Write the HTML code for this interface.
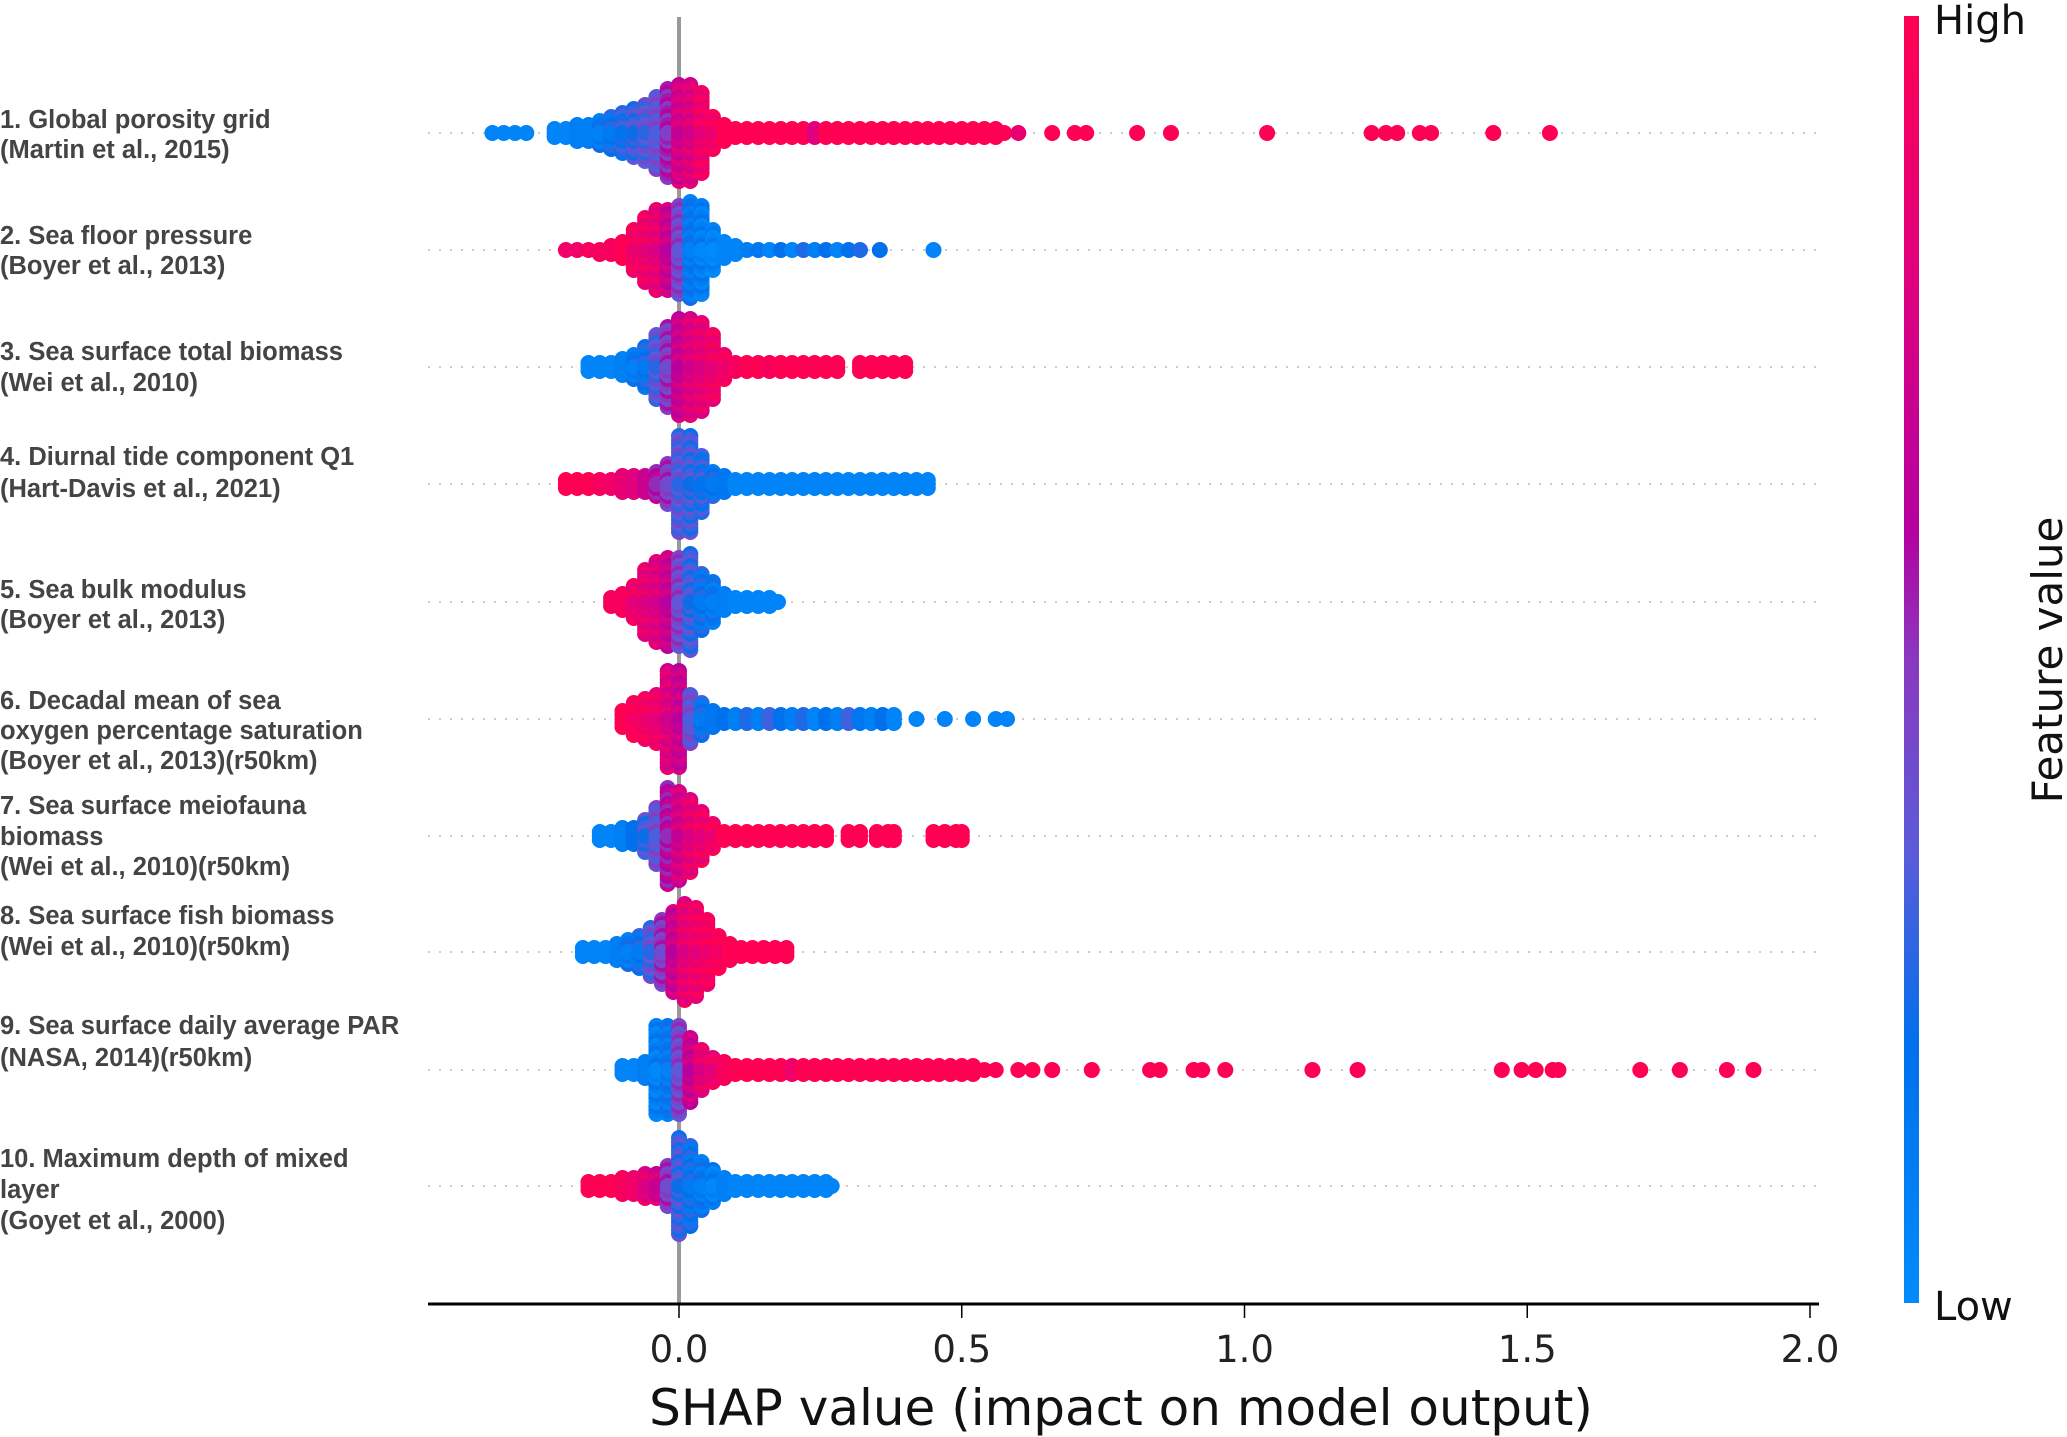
<!DOCTYPE html>
<html><head><meta charset="utf-8"><style>
html,body{margin:0;padding:0;background:#fff;}
svg{display:block;}
.lbl{font-family:"Liberation Sans",sans-serif;font-weight:bold;font-size:25.5px;fill:#444;}
.tick{font-family:"DejaVu Sans","Liberation Sans",sans-serif;font-size:37px;fill:#222;}
</style></head><body>
<svg id="chart" width="2067" height="1437" viewBox="0 0 2067 1437" xmlns="http://www.w3.org/2000/svg">
<defs><linearGradient id="cbg" x1="0" y1="1" x2="0" y2="0">
<stop offset="0" stop-color="#008bfb"/><stop offset="0.2" stop-color="#0070ec"/><stop offset="0.35" stop-color="#5b5bd9"/><stop offset="0.5" stop-color="#8a38c0"/><stop offset="0.6" stop-color="#b400a0"/><stop offset="0.8" stop-color="#e0007e"/><stop offset="1" stop-color="#ff0052"/></linearGradient></defs>
<g id="grid"></g>
<line x1="679" y1="17" x2="679" y2="1304" stroke="#999" stroke-width="4"/>
<g id="dots"></g>
<g id="labels"></g>
<line x1="428" y1="1304" x2="1819" y2="1304" stroke="#000" stroke-width="3"/>
<g id="xticks"></g>
<text x="1121" y="1425" text-anchor="middle" font-family="DejaVu Sans, Liberation Sans, sans-serif" font-size="50" fill="#111">SHAP value (impact on model output)</text>
<rect x="1904" y="16" width="15" height="1287" fill="url(#cbg)"/>
<text x="1934" y="34" font-family="DejaVu Sans, Liberation Sans, sans-serif" font-size="40" fill="#111">High</text>
<text x="1934" y="1320" font-family="DejaVu Sans, Liberation Sans, sans-serif" font-size="40" fill="#111">Low</text>
<text transform="translate(2062,660) rotate(-90)" text-anchor="middle" font-family="DejaVu Sans, Liberation Sans, sans-serif" font-size="42" fill="#111">Feature value</text>
</svg>
<script>
const featureNames = [
 ["1. Global porosity grid","(Martin et al., 2015)"],
 ["2. Sea floor pressure","(Boyer et al., 2013)"],
 ["3. Sea surface total biomass","(Wei et al., 2010)"],
 ["4. Diurnal tide component Q1","(Hart-Davis et al., 2021)"],
 ["5. Sea bulk modulus","(Boyer et al., 2013)"],
 ["6. Decadal mean of sea","oxygen percentage saturation","(Boyer et al., 2013)(r50km)"],
 ["7. Sea surface meiofauna","biomass","(Wei et al., 2010)(r50km)"],
 ["8. Sea surface fish biomass","(Wei et al., 2010)(r50km)"],
 ["9. Sea surface daily average PAR","(NASA, 2014)(r50km)"],
 ["10. Maximum depth of mixed","layer","(Goyet et al., 2000)"]
];
const xTickValues = [0.0, 0.5, 1.0, 1.5, 2.0];
const xTickLabels = ["0.0","0.5","1.0","1.5","2.0"];
const shapCols = [
 [-0.33,-0.31,-0.29,-0.27,-0.22,-0.20,-0.18,-0.16,-0.14,-0.12,-0.10,-0.08,-0.06,-0.04,-0.02,0.00,0.02,0.04,0.06,0.08,0.10,0.12,0.14,0.16,0.18,0.20,0.22,0.24,0.26,0.28,0.30,0.32,0.34,0.36,0.38,0.40,0.42,0.44,0.46,0.48,0.50,0.52,0.54,0.56,0.575,0.60,0.66,0.70,0.72,0.81,0.87,1.04,1.225,1.25,1.27,1.31,1.33,1.44,1.54],
 [-0.20,-0.18,-0.16,-0.14,-0.12,-0.10,-0.08,-0.06,-0.04,-0.02,0.00,0.02,0.04,0.06,0.08,0.10,0.12,0.14,0.16,0.18,0.20,0.22,0.24,0.26,0.28,0.30,0.32,0.355,0.45],
 [-0.16,-0.14,-0.12,-0.10,-0.08,-0.06,-0.04,-0.02,0.00,0.02,0.04,0.06,0.08,0.10,0.12,0.14,0.16,0.18,0.20,0.22,0.24,0.26,0.28,0.32,0.34,0.36,0.38,0.40],
 [-0.20,-0.18,-0.16,-0.14,-0.12,-0.10,-0.08,-0.06,-0.04,-0.02,0.00,0.02,0.04,0.06,0.08,0.10,0.12,0.14,0.16,0.18,0.20,0.22,0.24,0.26,0.28,0.30,0.32,0.34,0.36,0.38,0.40,0.42,0.44],
 [-0.12,-0.10,-0.08,-0.06,-0.04,-0.02,0.00,0.02,0.04,0.06,0.08,0.10,0.12,0.14,0.16,0.175],
 [-0.10,-0.08,-0.06,-0.04,-0.02,0.00,0.02,0.04,0.06,0.08,0.10,0.12,0.14,0.16,0.18,0.20,0.22,0.24,0.26,0.28,0.30,0.32,0.34,0.36,0.38,0.42,0.47,0.52,0.56,0.58],
 [-0.14,-0.12,-0.10,-0.08,-0.06,-0.04,-0.02,0.00,0.02,0.04,0.06,0.08,0.10,0.12,0.14,0.16,0.18,0.20,0.22,0.24,0.26,0.30,0.32,0.35,0.37,0.38,0.45,0.47,0.49,0.50],
 [-0.17,-0.15,-0.13,-0.11,-0.09,-0.07,-0.05,-0.03,-0.01,0.01,0.03,0.05,0.07,0.09,0.11,0.13,0.15,0.17,0.19],
 [-0.10,-0.08,-0.06,-0.04,-0.02,0.00,0.02,0.04,0.06,0.08,0.10,0.12,0.14,0.16,0.18,0.20,0.22,0.24,0.26,0.28,0.30,0.32,0.34,0.36,0.38,0.40,0.42,0.44,0.46,0.48,0.50,0.52,0.54,0.56,0.60,0.625,0.66,0.73,0.833,0.85,0.91,0.925,0.966,1.12,1.20,1.455,1.49,1.515,1.545,1.555,1.70,1.77,1.853,1.90],
 [-0.16,-0.14,-0.12,-0.10,-0.08,-0.06,-0.04,-0.02,0.00,0.02,0.04,0.06,0.08,0.10,0.12,0.14,0.16,0.18,0.20,0.22,0.24,0.26,0.27]
];
const dotCounts = [
 [1,1,1,1,3,3,5,5,7,9,11,13,15,19,23,25,25,21,9,5,3,3,3,3,3,3,3,3,3,3,3,3,3,3,3,3,3,3,3,3,3,3,3,3,1,1,1,1,1,1,1,1,1,1,1,1,1,1,1],
 [1,1,1,2,3,5,11,17,21,21,23,25,23,11,5,3,1,1,1,1,1,1,1,1,1,1,1,1,1],
 [3,3,3,5,7,11,17,21,25,25,23,17,7,3,3,3,3,3,3,3,3,3,3,3,3,3,3,3],
 [3,3,3,3,3,5,5,5,7,11,25,25,15,7,5,3,3,3,3,3,3,3,3,3,3,3,3,3,3,3,3,3,3],
 [3,5,9,17,21,23,23,25,15,11,5,3,3,3,3,1],
 [5,9,11,13,25,25,13,9,5,3,3,3,3,3,3,3,3,3,3,3,3,3,3,3,3,1,1,1,1,1],
 [3,3,5,5,9,15,25,23,19,13,7,3,3,3,3,3,3,3,3,3,3,3,3,3,3,3,3,3,3,3],
 [3,3,3,5,7,9,13,17,21,25,23,17,9,5,3,3,3,3,3],
 [3,3,5,23,23,23,17,11,7,5,3,3,3,3,3,3,3,3,3,3,3,3,3,3,3,3,3,3,3,3,3,3,1,1,1,1,1,1,1,1,1,1,1,1,1,1,1,1,1,1,1,1,1,1],
 [3,3,3,5,5,7,7,11,25,21,13,9,5,3,3,3,3,3,3,3,3,3,1]
];
const featVals = [
 [0.05,0.05,0.05,0.05,0.05,0.05,0.1,0.1,0.15,0.2,0.25,0.3,0.35,0.4,0.55,0.75,0.8,0.9,0.95,1,1,1,1,1,1,1,1,0.8,1,1,1,1,1,1,1,1,1,1,1,1,1,1,1,1,1,0.85,1,1,1,1,1,1,1,1,1,1,1,1,1],
 [0.9,0.9,0.95,0.95,0.95,1,0.95,0.9,0.85,0.7,0.45,0.15,0.1,0.05,0.05,0.05,0.1,0.15,0.05,0.2,0.05,0.25,0.1,0.2,0.05,0.2,0.25,0.2,0.05],
 [0.05,0.05,0.05,0.08,0.15,0.2,0.35,0.5,0.7,0.8,0.85,0.9,0.95,0.95,1,1,0.95,1,1,1,1,1,1,1,1,1,1,1],
 [1,1,1,0.95,0.9,0.85,0.8,0.7,0.6,0.5,0.35,0.3,0.25,0.2,0.15,0.05,0.05,0.05,0.05,0.05,0.05,0.05,0.05,0.05,0.05,0.05,0.05,0.05,0.05,0.05,0.05,0.05,0.05],
 [0.95,0.95,0.9,0.85,0.8,0.7,0.45,0.3,0.2,0.15,0.1,0.05,0.05,0.05,0.05,0.05],
 [1,1,0.95,0.9,0.8,0.7,0.4,0.2,0.15,0.2,0.1,0.25,0.1,0.3,0.2,0.1,0.25,0.05,0.2,0.1,0.3,0.15,0.1,0.2,0.05,0.05,0.05,0.05,0.05,0.05],
 [0.05,0.05,0.1,0.2,0.3,0.4,0.6,0.75,0.85,0.9,0.95,1,1,1,1,1,1,1,1,1,1,1,1,1,1,1,1,1,1,1],
 [0.05,0.05,0.05,0.1,0.15,0.2,0.35,0.5,0.7,0.85,0.9,0.95,1,1,1,1,1,1,1],
 [0.05,0.05,0.1,0.1,0.15,0.45,0.7,0.85,0.9,0.95,1,1,1,1,1,0.9,1,1,1,1,1,1,1,1,1,1,1,1,1,1,1,1,1,1,1,1,1,1,1,1,1,1,1,1,1,1,1,1,1,1,1,1,1,1],
 [1,1,1,0.95,0.9,0.85,0.75,0.5,0.3,0.2,0.15,0.1,0.1,0.05,0.05,0.05,0.05,0.05,0.05,0.05,0.05,0.05,0.05]
];
const rowY = [133,250,367,484,602,719,836,952,1070,1186];
const labelLineY = [[119,149],[235,265],[351,382],[456,488],[589,619],[700,730,760],[805,836,866],[915,946],[1025,1057],[1158,1189,1220]];

const NS = "http://www.w3.org/2000/svg";
const X0 = 679, PX = 565.5;
function xScale(v){ return X0 + v*PX; }
const stops = [[0,[0,139,251]],[0.2,[0,112,236]],[0.35,[91,91,217]],[0.5,[138,56,192]],[0.6,[180,0,160]],[0.8,[224,0,126]],[1,[255,0,82]]];
function cmap(t){
  t = Math.max(0, Math.min(1, t));
  for (let i=1;i<stops.length;i++){
    if (t <= stops[i][0]){
      const a=stops[i-1], b=stops[i], f=(t-a[0])/(b[0]-a[0]);
      const c=a[1].map((v,k)=>Math.round(v+(b[1][k]-v)*f));
      return "rgb("+c.join(",")+")";
    }
  }
  return "rgb(255,0,82)";
}
const grid = document.getElementById("grid");
const dots = document.getElementById("dots");
const labels = document.getElementById("labels");
const xticks = document.getElementById("xticks");

rowY.forEach((y, r) => {
  const gl = document.createElementNS(NS, "line");
  
  
  gl.setAttribute("x1", 428); gl.setAttribute("x2", 1819);
  gl.setAttribute("y1", y); gl.setAttribute("y2", y);
  gl.setAttribute("stroke", "#ccc"); gl.setAttribute("stroke-width", 2);
  gl.setAttribute("stroke-dasharray", "2 9");
  grid.appendChild(gl);

  const g = document.createElementNS(NS, "g");
  
  
  dots.appendChild(g);
  const cols = shapCols[r], cnt = dotCounts[r], fv = featVals[r];
  cols.forEach((v, i) => {
    const n = cnt[i];
    for (let k = n-1; k >= 0; k--) {
      const off = (k===0) ? 0 : (k%2 ? 1 : -1) * Math.ceil(k/2) * 4;
      const shade = fv[i] + ((k%3)-1) * 0.08 * (n>5 ? 1 : 0);
      const c = document.createElementNS(NS, "circle");
      
      
      c.setAttribute("cx", xScale(v).toFixed(1));
      c.setAttribute("cy", (y + off).toFixed(1));
      c.setAttribute("r", 8);
      c.setAttribute("fill", cmap(shade));
      g.appendChild(c);
    }
  });

  featureNames[r].forEach((line, j) => {
    const t = document.createElementNS(NS, "text");
    
    
    t.setAttribute("class", "lbl");
    t.setAttribute("x", 0);
    t.setAttribute("y", labelLineY[r][j] + 9);
    t.textContent = line;
    labels.appendChild(t);
  });
});

xTickValues.forEach((v, i) => {
  const x = xScale(v);
  const l = document.createElementNS(NS, "line");
  
  
  l.setAttribute("x1", x); l.setAttribute("x2", x);
  l.setAttribute("y1", 1304); l.setAttribute("y2", 1318);
  l.setAttribute("stroke", "#000"); l.setAttribute("stroke-width", 1.5);
  xticks.appendChild(l);
  const t = document.createElementNS(NS, "text");
  
  
  t.setAttribute("class", "tick");
  t.setAttribute("x", x); t.setAttribute("y", 1362);
  t.setAttribute("text-anchor", "middle");
  t.textContent = xTickLabels[i];
  xticks.appendChild(t);
});
</script>
</body></html>
